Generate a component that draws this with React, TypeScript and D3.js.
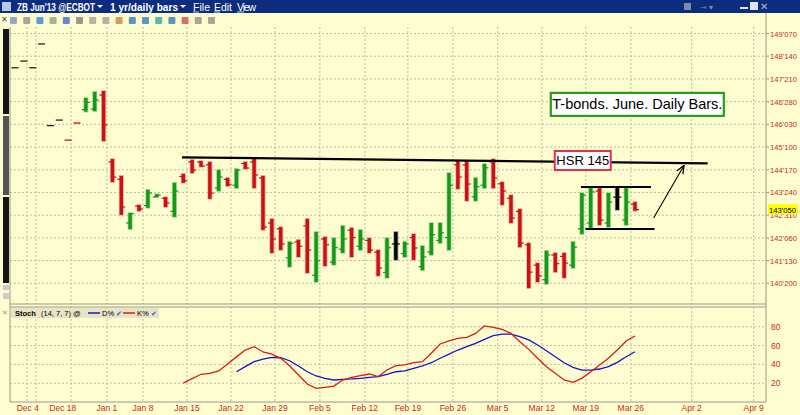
import * as d3 from "d3";

// daily bars, index 0 = first (Dec) bar
const barOpen = [148.04, 148.27, 148.04, 148.86, 146.05, 146.24, 145.57, 146.16, 146.6, 146.62, 147.1, 144.8, 144.2, 142.7, 143.28, 143.3, 143.6, 143.55, 143.1, 144.3, 144.8, 144.8, 144.7, 143.9, 144.2, 144.0, 144.75, 144.8, 144.25, 142.7, 142.5, 141.5, 142.05, 142.6, 140.9, 142.15, 141.35, 141.8, 142.45, 141.9, 142.1, 141.7, 141.0, 141.98, 141.65, 142.2, 141.2, 141.7, 142.1, 142.2, 144.7, 144.7, 143.6, 144.0, 144.8, 144.05, 143.55, 143.1, 141.95, 141.25, 140.75, 141.6, 141.55, 141.25, 142.5, 142.7, 143.8, 142.7, 143.59, 142.8, 143.35];
const barHigh = [148.04, 148.27, 148.04, 148.86, 146.05, 146.24, 145.57, 146.16, 147.0, 147.21, 147.24, 144.9, 144.32, 143.04, 143.32, 143.84, 143.69, 143.59, 144.08, 144.39, 144.87, 144.83, 144.8, 144.52, 144.25, 144.56, 144.8, 144.9, 144.32, 142.84, 142.56, 142.05, 142.12, 142.84, 142.39, 142.22, 142.18, 142.6, 142.53, 142.46, 142.18, 141.77, 142.18, 142.39, 142.05, 142.32, 141.91, 142.7, 142.7, 144.42, 144.83, 144.83, 144.25, 144.73, 144.9, 144.11, 143.66, 143.18, 142.01, 141.32, 141.74, 141.67, 141.67, 142.05, 143.73, 143.94, 143.9, 143.73, 143.9, 143.9, 143.42];
const barLow = [148.04, 148.27, 148.04, 148.86, 146.05, 146.24, 145.55, 146.14, 146.53, 146.55, 145.52, 144.11, 142.98, 142.49, 143.11, 143.22, 143.59, 143.25, 142.91, 144.08, 144.42, 144.63, 143.53, 143.8, 143.97, 143.9, 144.56, 143.9, 142.46, 141.67, 141.77, 141.19, 141.53, 140.98, 140.67, 141.22, 141.26, 141.67, 141.53, 141.77, 141.67, 140.88, 140.81, 141.43, 141.53, 141.43, 141.08, 141.6, 142.01, 141.77, 143.87, 143.46, 143.46, 143.9, 143.9, 143.32, 142.7, 141.87, 140.46, 140.67, 140.6, 141.01, 140.81, 141.15, 142.32, 142.53, 142.63, 142.56, 143.15, 142.63, 143.12];
const barClose = [148.04, 148.27, 148.04, 148.86, 146.05, 146.24, 145.55, 146.14, 146.85, 146.93, 146.07, 144.28, 143.25, 143.02, 143.18, 143.73, 143.66, 143.39, 143.8, 144.15, 144.52, 144.66, 143.73, 144.28, 144.01, 144.52, 144.59, 144.35, 142.56, 142.15, 141.98, 142.0, 141.9, 141.77, 141.4, 141.95, 141.85, 142.15, 142.2, 142.15, 141.77, 141.15, 141.85, 141.98, 141.98, 141.84, 141.53, 142.3, 142.36, 144.0, 144.28, 144.04, 143.95, 144.6, 144.25, 143.8, 142.87, 142.01, 141.01, 140.88, 141.6, 141.3, 141.32, 141.87, 143.66, 143.77, 142.8, 143.42, 143.59, 143.42, 143.16];

// stochastic (14, 7, 7)
const kStart = 19;
const kValues = [20, 24.8, 29.5, 30.5, 33, 40.4, 48, 55.3, 58.9, 53.2, 51, 46.5, 38.6, 28.7, 19.1, 14.5, 15.6, 17, 23.4, 26.2, 28, 29.8, 27, 34, 38.6, 39.4, 41.8, 42.9, 51.8, 61.7, 64.9, 67.7, 68.8, 73, 80.9, 79.4, 77.3, 73, 64.2, 56, 46.5, 37.6, 30.5, 23.4, 21, 25.2, 32.2, 39.4, 46.5, 55.3, 64.9, 70.2];
const dStart = 25;
const dValues = [32.2, 37.6, 42.9, 45.7, 47.5, 47.1, 43.9, 38.3, 32.2, 27.7, 25.2, 23.4, 24.1, 24.5, 25.2, 26.2, 27, 29.5, 32.2, 33, 35.8, 38.3, 41.8, 46.5, 51, 55.3, 58.9, 62.4, 66.7, 70.5, 72.3, 72.3, 69.5, 66, 60.6, 54.6, 48.2, 41.8, 36.9, 34, 34, 35.1, 37.6, 42.2, 48.2, 53.5];

const priceTicks = ["149'070", "148'140", "147'210", "146'280", "146'030", "145'100", "144'170", "143'240", "142'310", "142'060", "141'130", "140'200"];
const stochTicks = [20, 40, 60, 80];
const dateLabels = ["Dec 4", "Dec 18", "Jan 1", "Jan 8", "Jan 15", "Jan 22", "Jan 29", "Feb 5", "Feb 12", "Feb 19", "Feb 26", "Mar 5", "Mar 12", "Mar 19", "Mar 26", "Apr 2", "Apr 9"];
const dateIdx = [1.45, 5.4, 10.38, 14.45, 19.41, 24.38, 29.35, 34.42, 39.5, 44.36, 49.44, 54.5, 59.48, 64.45, 69.53, 76.4, 83.4];
const gridIdx = [1.35, 2.37, 6.32, 10.38, 14.45, 19.41, 24.38, 29.35, 34.42, 39.5, 44.36, 49.44, 54.5, 59.48, 64.45, 69.53, 76.4, 83.4];

// drawn lines: [idx1, price1, idx2, price2]
const hsrLine = [18.85, 144.96, 78.2, 144.75];
const boxTop = [63.9, 143.94, 71.8, 143.94];
const boxBottom = [64.4, 142.49, 72.2, 142.49];
const arrowLine = [72.1, 142.87, 75.5, 144.66];
const lastPrice = "143'050";

const parse32 = (s: string) => {
  const [a, b] = s.split("'");
  return +a + +b / 320;
};

const W = 800, H = 415;
const plotL = 10, plotR = 766, mainT = 27, mainB = 304, stT = 307, stB = 402;
const sans = "'Liberation Sans', Arial, sans-serif";

export default function App() {
  const x = d3.scaleLinear().domain([0, 70]).range([15, 635]);
  const y = d3.scaleLinear().domain([parse32("140'200"), parse32("149'070")]).range([283.3, 33.5]);
  const ys = d3.scaleLinear().domain([0, 100]).range([402, 308]);

  const kLine = d3.line<number>().x((_, i) => x(kStart + i)).y((v) => ys(v));
  const dLine = d3.line<number>().x((_, i) => x(dStart + i)).y((v) => ys(v));

  const bg = "#fdfdd0";
  const gridC = "#bdbca0";
  const axisRed = "#cc2a1a";

  const colorOf = (i: number) =>
    barClose[i] > barOpen[i] ? "#169a16" : barClose[i] < barOpen[i] ? "#cc1111" : "#000";
  const haloOf = (i: number) =>
    barClose[i] > barOpen[i] ? "#9fd59a" : barClose[i] < barOpen[i] ? "#f0a8a0" : "#999";

  const seg = (l: number[], props: any) => (
    <line x1={x(l[0])} y1={y(l[1])} x2={x(l[2])} y2={y(l[3])} {...props} />
  );

  return (
    <div style={{ position: "fixed", left: 0, top: 0 }}>
      <svg width={W} height={H} style={{ display: "block", fontFamily: sans }}>
        <defs>
          <clipPath id="mainClip">
            <rect x={plotL} y={mainT} width={plotR - plotL} height={mainB - mainT} />
          </clipPath>
          <marker id="arr" viewBox="0 0 10 10" refX="9" refY="5" markerWidth="8" markerHeight="8" orient="auto">
            <path d="M0,1 L10,5 L0,9" fill="none" stroke="#000" strokeWidth="1.4" />
          </marker>
        </defs>
        <rect width={W} height={H} fill={bg} />

        {/* title bar */}
        <rect x={0} y={0} width={W} height={13} fill="#0c2c7e" />
        <rect x={2} y={2} width={9} height={9} fill="#b8c8e8" />
        <g fill="#fff" fontFamily={sans} fontSize={10.5} fontWeight="bold">
          <text x={17} y={10.5} textLength={78} lengthAdjust="spacingAndGlyphs">ZB Jun'13 @ECBOT</text>
          <path d="M97,5 L103,5 L100,8 Z" />
          <text x={110} y={10.5} textLength={68} lengthAdjust="spacingAndGlyphs">1 yr/daily bars</text>
          <path d="M180,5 L186,5 L183,8 Z" />
          <text x={193} y={10.5} fontWeight="normal" textLength={17}>File</text>
          <text x={214} y={10.5} fontWeight="normal" textLength={18}>Edit</text>
          <text x={237} y={10.5} fontWeight="normal" textLength={19}>View</text>
          <g stroke="#fff" strokeWidth={0.8}>
            <line x1={193} x2={199} y1={12} y2={12} />
            <line x1={214} x2={220} y1={12} y2={12} />
            <line x1={237} x2={244} y1={12} y2={12} />
          </g>
        </g>
        <g>
          <rect x={684} y={3} width={7} height={7} fill="#7d8aa8" />
          <text x={700} y={10} fontSize={8} fill="#8090b8">⊸ ▾</text>
          <rect x={740} y={7} width={8} height={2} fill="#dfe6f3" />
          <rect x={750} y={2} width={8} height={8} fill="#dfe6f3" />
          <text x={760} y={10} fontSize={10} fill="#b0bcd8">✕</text>
        </g>

        {/* toolbar */}
        <g>
          <text x={1} y={22} fontSize={8} fill="#444">✕</text>
          {["#6c8fc0", "#888", "#2a7bd0", "#7fa07f", "#3a60c0", "#777", "#999", "#999", "#c08030", "#2a70c0", "#2a70c0", "#2aa0a0", "#2a70c0", "#d04040", "#888", "#888"].map((c, i) => (
            <rect key={i} x={10 + i * 13.2} y={17} width={7} height={7} fill={c} opacity={0.75} rx={1} />
          ))}
        </g>

        {/* left scroller */}
        <rect x={3} y={29} width={6} height={85} fill="#151515" />
        <rect x={3} y={116} width={6} height={79} fill="#555" />
        <rect x={3} y={197} width={6} height={86} fill="#151515" />
        <rect x={3} y={285} width={6} height={5} fill="#ccc" />
        <rect x={3} y={293} width={6} height={6} fill="#ccc" />
        <text x={2} y={315} fontSize={7} fill="#999">✕</text>

        {/* grid */}
        <g stroke={gridC} strokeDasharray="2,2" strokeWidth={1}>
          {gridIdx.map((g, i) => (
            <g key={i}>
              <line x1={x(g)} x2={x(g)} y1={mainT} y2={mainB} />
              <line x1={x(g)} x2={x(g)} y1={stT} y2={stB} />
            </g>
          ))}
          {priceTicks.map((t) => (
            <line key={t} x1={plotL} x2={plotR} y1={y(parse32(t))} y2={y(parse32(t))} />
          ))}
          {stochTicks.map((t) => (
            <line key={t} x1={plotL} x2={plotR} y1={ys(t)} y2={ys(t)} />
          ))}
        </g>

        {/* panel frames */}
        <g stroke="#9a9a88" strokeWidth={1} fill="none">
          <line x1={plotL} x2={plotL} y1={mainT} y2={stB} />
          <line x1={plotR} x2={plotR} y1={13} y2={stB} />
          <line x1={plotL} x2={plotR} y1={mainB} y2={mainB} />
          <line x1={plotL} x2={plotR} y1={stT} y2={stT} />
          <line x1={plotL} x2={plotR} y1={stB} y2={stB} />
        </g>

        {/* bars */}
        <g clipPath="url(#mainClip)">
          {barHigh.map((h, i) => {
            const cx = x(i);
            if (h - barLow[i] < 0.05) {
              return (
                <line key={i} x1={cx - 3.5} x2={cx + 3.5} y1={y(barClose[i])} y2={y(barClose[i])}
                  stroke={barOpen[i] > barClose[i] ? "#cc1111" : "#222"} strokeWidth={1.3} />
              );
            }
            return (
              <g key={i}>
                <line x1={cx} x2={cx} y1={y(h) - 0.8} y2={y(barLow[i]) + 0.8} stroke={haloOf(i)} strokeWidth={5} />
                <line x1={cx} x2={cx} y1={y(h)} y2={y(barLow[i])} stroke={colorOf(i)} strokeWidth={3.4} />
                <line x1={cx - 4} x2={cx} y1={y(barOpen[i])} y2={y(barOpen[i])} stroke={colorOf(i)} strokeWidth={1.2} />
                <line x1={cx} x2={cx + 4} y1={y(barClose[i])} y2={y(barClose[i])} stroke={colorOf(i)} strokeWidth={1.2} />
              </g>
            );
          })}

          {/* drawn lines */}
          {seg(hsrLine, { stroke: "#000", strokeWidth: 2.2 })}
          {seg(boxTop, { stroke: "#000", strokeWidth: 2 })}
          {seg(boxBottom, { stroke: "#000", strokeWidth: 2 })}
          {seg(arrowLine, { stroke: "#000", strokeWidth: 1.1, markerEnd: "url(#arr)" })}
        </g>

        {/* annotations */}
        <g>
          <rect x={x(64.1) - 28} y={y(144.85) - 9.5} width={56} height={19} fill="#fff" stroke="#e0304a" strokeWidth={2} />
          <text x={x(64.1)} y={y(144.85) + 4.5} textAnchor="middle" fontSize={13}>HSR 145</text>
          <rect x={x(70.26) - 86.5} y={y(146.78) - 11.5} width={173} height={23} fill="#fff" stroke="#2e9a1e" strokeWidth={2.2} />
          <text x={x(70.26)} y={y(146.78) + 5} textAnchor="middle" fontSize={14.5}>T-bonds. June. Daily Bars.</text>
        </g>

        {/* price axis */}
        <g fill={axisRed} fontSize={8}>
          {priceTicks.map((t) => (
            <g key={t}>
              <line x1={plotR} x2={plotR + 3} y1={y(parse32(t))} y2={y(parse32(t))} stroke="#9a9a88" />
              <text x={plotR + 4} y={y(parse32(t)) + 3} textLength={27} lengthAdjust="spacingAndGlyphs">{t}</text>
            </g>
          ))}
        </g>
        <rect x={plotR + 2} y={y(parse32(lastPrice)) - 5.5} width={30} height={10} fill="#ffff00" />
        <text x={plotR + 3} y={y(parse32(lastPrice)) + 3} fontSize={8} fill="#000" textLength={27} lengthAdjust="spacingAndGlyphs">{lastPrice}</text>

        {/* stochastic */}
        <rect x={plotL + 1} y={stT + 1} width={148} height={10} fill="#e6e4c4" />
        <g fontSize={7.5} fill="#000">
          <text x={15} y={316} fontWeight="bold">Stoch</text>
          <text x={41} y={316}>(14, 7, 7) @</text>
          <line x1={88} x2={100} y1={313} y2={313} stroke="#1a1ac8" strokeWidth={1.5} />
          <text x={102} y={316}>D%</text>
          <text x={116} y={316} fill="#2a5ad0" fontSize={7}>✔</text>
          <line x1={123} x2={135} y1={313} y2={313} stroke="#d02020" strokeWidth={1.5} />
          <text x={137} y={316}>K%</text>
          <text x={151} y={316} fill="#2a5ad0" fontSize={7}>✔</text>
        </g>
        <path d={dLine(dValues) ?? ""} fill="none" stroke="#1515c8" strokeWidth={1.3} />
        <path d={kLine(kValues) ?? ""} fill="none" stroke="#dd1a12" strokeWidth={1.3} />
        <g fill={axisRed} fontSize={8.5}>
          {stochTicks.map((t) => (
            <text key={t} x={plotR + 5} y={ys(t) + 3}>{t}</text>
          ))}
        </g>

        {/* date axis */}
        <g fill={axisRed} fontSize={8.5} textAnchor="middle">
          {dateLabels.map((d, i) => (
            <text key={d} x={x(dateIdx[i])} y={411}>{d}</text>
          ))}
        </g>
      </svg>
    </div>
  );
}
